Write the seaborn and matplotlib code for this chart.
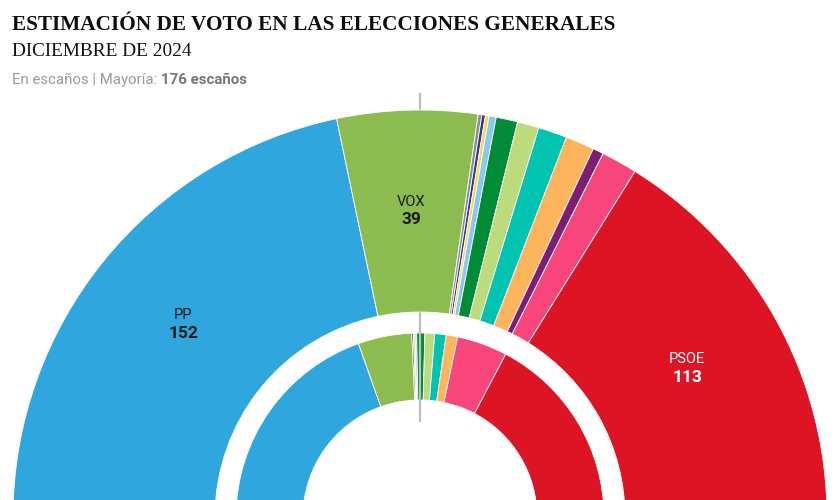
import matplotlib
matplotlib.use("Agg")
import matplotlib.pyplot as plt
import seaborn as sns

# ---------------- data ----------------
parties = ["PP", "VOX", "SALF", "UPN", "CC", "BNG", "PNV", "EH Bildu",
           "Junts", "ERC", "Podemos", "Sumar", "PSOE"]
seats_estimate = [152, 39, 1, 1, 1, 2, 6, 6, 8, 8, 3, 10, 113]   # outer ring
seats_current = [137, 33, 0, 1, 1, 1, 5, 6, 7, 7, 0, 31, 121]    # inner ring
party_colors = ["#2fa6de", "#8cbb50", "#8d8d8d", "#2d3c92", "#ffd34d",
                "#88c9ee", "#008b36", "#bcdb7c", "#00c4b0", "#fdb55d",
                "#7e1e70", "#f8457b", "#dc1424"]
labels_shown = {"PP": ("152", "#1b1b1b"), "VOX": ("39", "#1b1b1b"),
                "PSOE": ("113", "white")}
title = "ESTIMACIÓN DE VOTO EN LAS ELECCIONES GENERALES"
subtitle = "DICIEMBRE DE 2024"
note_a = "En escaños | Mayoría:"
note_b = "176 escaños"
total_seats = 350

# ---------------- style ----------------
sns.set_theme(style="white")
plt.rcParams["font.family"] = ["Roboto", "DejaVu Sans"]
palette = sns.color_palette(party_colors)

W, H = 840, 500
fig = plt.figure(figsize=(W / 100, H / 100), dpi=100)
ax = fig.add_axes([0, 0, 1, 1])

cx, cy = 420, H - 517   # centre of the hemicycle (below the picture)


def ring(values, radius, width, z):
    vals, cols = [], []
    for v, c in zip(values, palette):
        if v > 0:
            vals.append(v)
            cols.append(c)
    vals.append(sum(vals))          # hidden lower half
    cols.append((1, 1, 1, 0))
    wedges, _ = ax.pie(vals, colors=cols, startangle=180, counterclock=False,
                       radius=radius, center=(cx, cy), frame=True,
                       wedgeprops=dict(width=width, edgecolor="white",
                                       linewidth=0.6, zorder=z))
    wedges[-1].set_visible(False)


ring(seats_current, 184, 67, 1)
ring(seats_estimate, 407, 202, 3)

# majority line
ax.plot([cx, cx], [H - 93, H - 422], color="#bdbdbd", lw=1.6, zorder=2,
        solid_capstyle="butt")

ax.set_xlim(0, W)
ax.set_ylim(0, H)
ax.set_aspect("auto")
ax.axis("off")

# party labels
label_pos = {"PP": (183, 315, 333.5), "VOX": (411, 202, 220),
             "PSOE": (687, 359, 377)}
for p, (num, col) in labels_shown.items():
    x, y1, y2 = label_pos[p]
    ax.text(x, H - y1, p, ha="center", va="center", fontsize=10.5,
            color=col, zorder=5)
    ax.text(x, H - y2, num, ha="center", va="center", fontsize=12.5,
            fontweight="bold", color=col, zorder=5)

# titles
ax.text(12, H - 30, title, ha="left", va="baseline", fontsize=15.3,
        fontweight="bold", family=["Liberation Serif", "DejaVu Serif"],
        color="#0d0d0d")
ax.text(12, H - 56, subtitle, ha="left", va="baseline", fontsize=13.9,
        family=["Liberation Serif", "DejaVu Serif"], color="#111111")

fig.canvas.draw()
renderer = fig.canvas.get_renderer()
t1 = ax.text(12, H - 84, note_a, ha="left", va="baseline", fontsize=10.8,
             color="#9a9a9a")
bb = t1.get_window_extent(renderer=renderer)
ax.text(bb.x1 + 4, H - 84, note_b, ha="left", va="baseline",
        fontsize=10.8, fontweight="bold", color="#767676")

fig.savefig("out.png", dpi=100)
